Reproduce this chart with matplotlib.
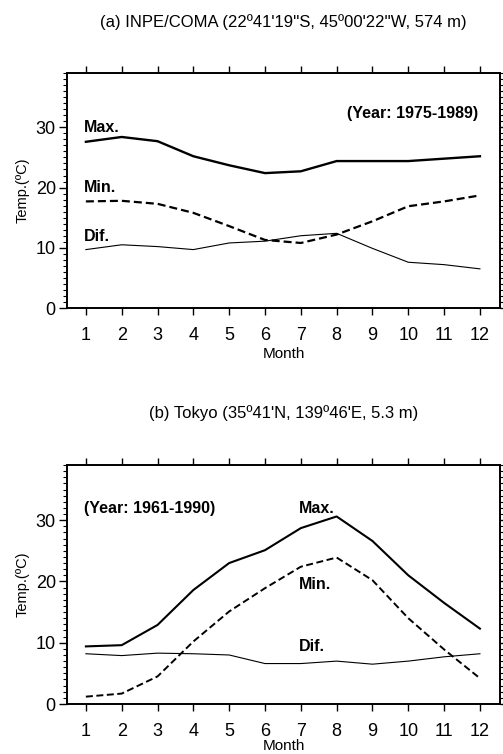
import matplotlib

matplotlib.use("Agg")
import matplotlib.pyplot as plt
from matplotlib.ticker import MultipleLocator

plt.rcParams["font.family"] = ["Liberation Sans", "DejaVu Sans"]

months = list(range(1, 13))

# (a) INPE/COMA, 1975-1989
inpe_max = [27.6, 28.4, 27.7, 25.2, 23.7, 22.4, 22.7, 24.4, 24.4, 24.4, 24.8, 25.2]
inpe_min = [17.7, 17.8, 17.3, 15.8, 13.6, 11.3, 10.8, 12.2, 14.4, 16.9, 17.7, 18.7]
inpe_dif = [9.7, 10.5, 10.2, 9.7, 10.8, 11.1, 12.0, 12.4, 9.9, 7.6, 7.2, 6.5]

# (b) Tokyo, 1961-1990
tokyo_max = [9.4, 9.6, 12.9, 18.6, 23.0, 25.1, 28.7, 30.6, 26.6, 21.0, 16.5, 12.3]
tokyo_min = [1.2, 1.7, 4.5, 10.2, 15.1, 18.9, 22.4, 23.9, 20.2, 14.0, 8.9, 4.2]
tokyo_dif = [8.2, 7.9, 8.3, 8.2, 8.0, 6.6, 6.6, 7.0, 6.5, 7.0, 7.7, 8.2]

fig = plt.figure(figsize=(5.03, 7.54), dpi=100)
ax_a = fig.add_axes([0.133, 0.5915, 0.861, 0.3115])
ax_b = fig.add_axes([0.133, 0.0663, 0.861, 0.317])


def style_axes(ax, title, month_pad):
    ax.set_xlim(0.47, 12.56)
    ax.set_ylim(0, 39)
    ax.set_xticks(months)
    ax.set_yticks([0, 10, 20, 30])
    ax.yaxis.set_minor_locator(MultipleLocator(1))
    for s in ax.spines.values():
        s.set_linewidth(1.4)
    ax.tick_params(axis="x", which="major", direction="out", length=5, width=1,
                   top=True, bottom=True, labelsize=13, pad=9)
    ax.tick_params(axis="y", which="major", direction="out", length=6, width=1,
                   left=True, right=True, labelsize=13, pad=2)
    ax.tick_params(axis="y", which="minor", direction="out", length=3, width=0.8,
                   left=True, right=True)
    ax.set_xlabel("Month", fontsize=11, labelpad=month_pad)
    ax.set_ylabel("Temp.(ºC)", fontsize=10.5, labelpad=4)
    ax.text(0.5, 1.217, title, transform=ax.transAxes, ha="center", va="center",
            fontsize=12)


dash = (0, (3.6, 1.8))
lab = dict(fontsize=11.5, fontweight="bold", va="center")

ax_a.plot(months, inpe_max, color="black", lw=1.7)
ax_a.plot(months, inpe_min, color="black", lw=1.6, linestyle=dash)
ax_a.plot(months, inpe_dif, color="black", lw=0.8)
style_axes(ax_a, "(a) INPE/COMA (22º41'19''S, 45º00'22''W, 574 m)", 2)
ax_a.text(0.95, 30.0, "Max.", **lab)
ax_a.text(0.95, 20.0, "Min.", **lab)
ax_a.text(0.95, 11.8, "Dif.", **lab)
ax_a.text(11.95, 32.3, "(Year: 1975-1989)", ha="right", **lab)

ax_b.plot(months, tokyo_max, color="black", lw=1.5)
ax_b.plot(months, tokyo_min, color="black", lw=1.4, linestyle=dash)
ax_b.plot(months, tokyo_dif, color="black", lw=0.8)
style_axes(ax_b, "(b) Tokyo (35º41'N, 139º46'E, 5.3 m)", -1)
ax_b.text(0.95, 31.9, "(Year: 1961-1990)", **lab)
ax_b.text(6.95, 31.9, "Max.", **lab)
ax_b.text(6.95, 19.5, "Min.", **lab)
ax_b.text(6.95, 9.4, "Dif.", **lab)

fig.savefig("out.png", dpi=100)
